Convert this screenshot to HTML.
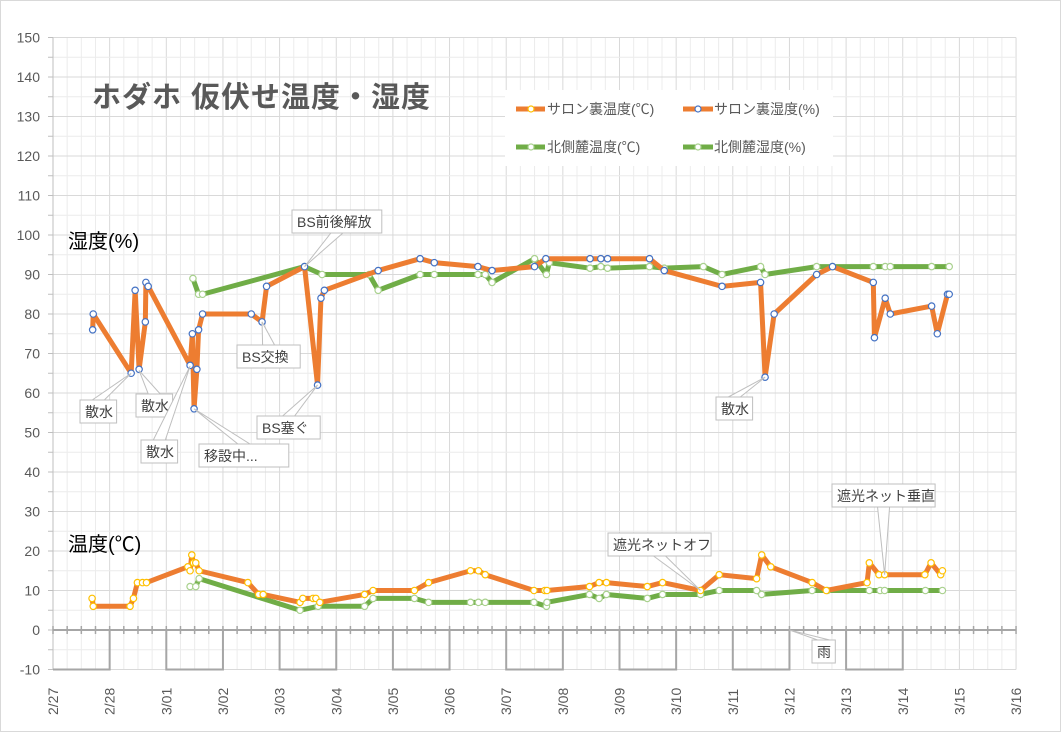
<!DOCTYPE html>
<html><head><meta charset="utf-8"><style>
html,body{margin:0;padding:0;background:#fff;}
svg text{font-family:"Liberation Sans","Noto Sans CJK JP",sans-serif;}
</style></head><body>
<svg id="chart" width="1061" height="732" viewBox="0 0 1061 732" xmlns="http://www.w3.org/2000/svg">
<rect x="0.5" y="0.5" width="1060" height="731" fill="#fff" stroke="#d9d9d9"/>
<g id="grid"></g>
<g id="axes"></g>
<g id="series"></g>
<g id="notes"></g>
<text x="92" y="107" font-size="29" font-weight="bold" fill="#595959" style="letter-spacing:1px">ホダホ 仮伏せ温度・湿度</text>
<text x="68" y="248" font-size="20" fill="#000">湿度(%)</text>
<text x="68" y="551" font-size="20" fill="#000">温度(℃)</text>
<g>
<rect x="505" y="90" width="328" height="76" fill="#fff"/>
<g><line x1="516" y1="109" x2="545" y2="109" stroke="#ed7d31" stroke-width="5"/><circle cx="531" cy="109" r="3" fill="#fff" stroke="#ffc000" stroke-width="1.2"/><text x="547" y="114" font-size="14" fill="#595959">サロン裏温度(℃)</text></g>
<g><line x1="683" y1="109" x2="713" y2="109" stroke="#ed7d31" stroke-width="5"/><circle cx="698" cy="109" r="3" fill="#fff" stroke="#4472c4" stroke-width="1.2"/><text x="714" y="114" font-size="14" fill="#595959">サロン裏湿度(%)</text></g>
<g><line x1="516" y1="147" x2="545" y2="147" stroke="#70ad47" stroke-width="5"/><circle cx="531" cy="147" r="3" fill="#fff" stroke="#a9d18e" stroke-width="1.2"/><text x="547" y="152" font-size="14" fill="#595959">北側麓温度(℃)</text></g>
<g><line x1="683" y1="147" x2="713" y2="147" stroke="#70ad47" stroke-width="5"/><circle cx="698" cy="147" r="3" fill="#fff" stroke="#a9d18e" stroke-width="1.2"/><text x="714" y="152" font-size="14" fill="#595959">北側麓湿度(%)</text></g>
</g>
</svg>
<script>
// ---- data (x = days since 2/27) ----
const dateLabels = ["2/27","2/28","3/01","3/02","3/03","3/04","3/05","3/06","3/07","3/08","3/09","3/10","3/11","3/12","3/13","3/14","3/15","3/16"];
const yTicks = [-10,0,10,20,30,40,50,60,70,80,90,100,110,120,130,140,150];
const salonHumDays = [0.70,0.71,1.38,1.45,1.52,1.63,1.64,1.68,2.42,2.46,2.49,2.54,2.57,2.64,3.50,3.69,3.77,4.44,4.67,4.73,4.79,5.74,6.48,6.73,7.50,7.75,8.50,8.70,9.48,9.67,9.79,10.53,10.79,11.81,12.49,12.57,12.73,13.48,13.76,14.48,14.50,14.69,14.78,15.51,15.61,15.79,15.82];
const salonHumVals = [76,80,65,86,66,78,88,87,67,75,56,66,76,80,80,78,87,92,62,84,86,91,94,93,92,91,92,94,94,94,94,94,91,87,88,64,80,90,92,88,74,84,80,82,75,85,85];
const northHumDays = [2.47,2.57,2.64,4.44,4.75,5.58,5.74,6.48,6.73,7.50,7.63,7.75,8.50,8.71,8.76,9.48,9.67,9.79,10.53,10.79,11.48,11.81,12.49,12.57,13.48,13.76,14.48,14.69,14.78,15.51,15.82];
const northHumVals = [89,85,85,92,90,90,86,90,90,90,90,88,94,90,93,91.6,92,91.6,92,91.6,92,90,92,90,92,92,92,92,92,92,92];
const salonTempDays = [0.69,0.71,1.36,1.42,1.49,1.58,1.65,2.38,2.42,2.45,2.48,2.52,2.58,3.44,3.63,3.71,4.36,4.41,4.59,4.64,4.71,5.50,5.65,6.38,6.63,7.37,7.51,7.63,8.49,8.68,8.72,9.47,9.64,9.77,10.49,10.76,11.43,11.76,12.42,12.51,12.67,13.40,13.65,14.37,14.41,14.58,14.68,15.39,15.50,15.67,15.70];
const salonTempVals = [8,6,6,8,12,12,12,16,15,19,17,17,15,12,9,9,7,8,8,8,7,9,10,10,12,15,15,14,10,10,10,11,12,12,11,12,10,14,13,19,16,12,10,12,17,14,14,14,17,14,15];
const northTempDays = [2.42,2.52,2.58,4.36,4.68,5.50,5.65,6.38,6.63,7.37,7.51,7.63,8.49,8.71,8.72,9.47,9.64,9.77,10.49,10.76,11.43,11.76,12.42,12.51,13.40,13.67,14.41,14.60,14.68,15.40,15.70];
const northTempVals = [11,11,13,5,6,6,8,8,7,7,7,7,7,6,7,9,8,9,8,9,9,10,10,9,10,10,10,10,10,10,10];
const dayNightDays = [0,1,2,3,4,5,6,7,8,9,10,11,12,13,14,15,16,17];
const dayNightVals = [-10,0,-10,0,-10,0,-10,0,-10,0,-10,0,-10,0,-10,0,0,0];
const noteTexts = ["散水","散水","散水","移設中...","BS交換","BS前後解放","BS塞ぐ","散水","遮光ネットオフ","遮光ネット垂直","雨"];
const noteTargetsX = [1.38,1.52,2.42,2.49,3.69,4.44,4.67,12.57,11.43,14.68,13.0];
const noteTargetsY = [65,65.7,66.8,56,78,92,62,64,10,14,0];

// ---- axes ----
const X0=53, DAY=56.65, Y0=630, U=3.95;
const sx=d=>X0+d*DAY, sy=v=>Y0-v*U;
const NS="http://www.w3.org/2000/svg";
function mk(tag,parent,attrs){const e=document.createElementNS(NS,tag);for(const k in attrs)e.setAttribute(k,attrs[k]);parent.appendChild(e);return e;}
const grid=document.getElementById('grid'), axes=document.getElementById('axes'), ser=document.getElementById('series'), notes=document.getElementById('notes');
const yTop=sy(150), yBot=sy(-10), xRight=sx(17);
for(let q=1;q<=17*4;q++){const x=sx(q/4);
 const l=mk('line',grid,{x1:x,y1:yTop,x2:x,y2:yBot,stroke:q%4===0?'#d9d9d9':'#ececec','stroke-width':1});
 
 }
for(let v=-10;v<=150;v+=5){const y=sy(v);
 const l=mk('line',grid,{x1:X0,y1:y,x2:xRight,y2:y,stroke:v%10===0?'#d9d9d9':'#ececec','stroke-width':1});
 
 
 mk('line',axes,{x1:X0-5,y1:y,x2:X0,y2:y,stroke:'#bfbfbf'});}
mk('line',axes,{x1:X0,y1:yTop,x2:X0,y2:yBot,stroke:'#bfbfbf'});
yTicks.forEach(v=>{const t=mk('text',axes,{x:40,y:sy(v)+5,'text-anchor':'end','font-size':14,fill:'#595959'});t.textContent=v;
 
 });
// x axis at 0
mk('line',axes,{x1:X0,y1:Y0,x2:xRight,y2:Y0,stroke:'#a6a6a6','stroke-width':2});
for(let q=0;q<=17*4;q++){const x=sx(q/4);mk('line',axes,{x1:x,y1:Y0-4,x2:x,y2:Y0+4,stroke:'#a6a6a6','stroke-width':1.5});}
dateLabels.forEach((s,i)=>{const x=sx(i)+5,y=715;const t=mk('text',axes,{x:x,y:y,'font-size':14,fill:'#595959',transform:`rotate(-90 ${x} ${y})`});t.textContent=s;
 
 });
// day/night step line
let dpath='';dayNightDays.forEach((d,i)=>{if(i===0)dpath+=`M${sx(d)},${sy(dayNightVals[i])}`;else dpath+=`H${sx(d)}V${sy(dayNightVals[i])}`;});
const dn=mk('path',ser,{d:dpath,fill:'none',stroke:'#a6a6a6','stroke-width':2});


function series(days,vals,color,mcol,name){
 const pts=days.map((d,i)=>`${sx(d)},${sy(vals[i])}`).join(' ');
 const g=mk('g',ser,{});
 
 
 mk('polyline',g,{points:pts,fill:'none',stroke:color,'stroke-width':5,'stroke-linejoin':'round'});
 days.forEach((d,i)=>{const c=mk('circle',g,{cx:sx(d),cy:sy(vals[i]),r:3.2,fill:'#fff',stroke:mcol,'stroke-width':1.2});
  
  });
}
series(northHumDays,northHumVals,'#70ad47','#a9d18e','north-humidity-series');
series(salonHumDays,salonHumVals,'#ed7d31','#4472c4','salon-humidity-series');
series(northTempDays,northTempVals,'#70ad47','#a9d18e','north-temp-series');
series(salonTempDays,salonTempVals,'#ed7d31','#ffc000','salon-temp-series');
// annotations (label box positions)
const boxX=[80,136,141,199,237,292,257,716,608,832,812];
const boxY=[400,394,440,444,345,210,416,397,533,484,640];
noteTexts.forEach((s,i)=>{
 const fs=14, w=(s.length*fs*0.95)+10, h=23;
 const g=mk('g',notes,{});
 
 
 const bx=boxX[i],by=boxY[i],tx=sx(noteTargetsX[i]),ty=sy(noteTargetsY[i]);
 const cy=ty<by?by:by+h;
 mk('polygon',g,{points:`${tx},${ty} ${bx+w/2-6},${cy} ${bx+w/2+6},${cy}`,fill:'#fff',stroke:'#bfbfbf','stroke-width':1});
 mk('rect',g,{x:bx,y:by,width:w,height:h,fill:'#fff',stroke:'#bfbfbf','stroke-width':1});
 const t=mk('text',g,{x:bx+5,y:by+17,'font-size':fs,fill:'#404040'});t.textContent=s;
});
</script>
</body></html>
